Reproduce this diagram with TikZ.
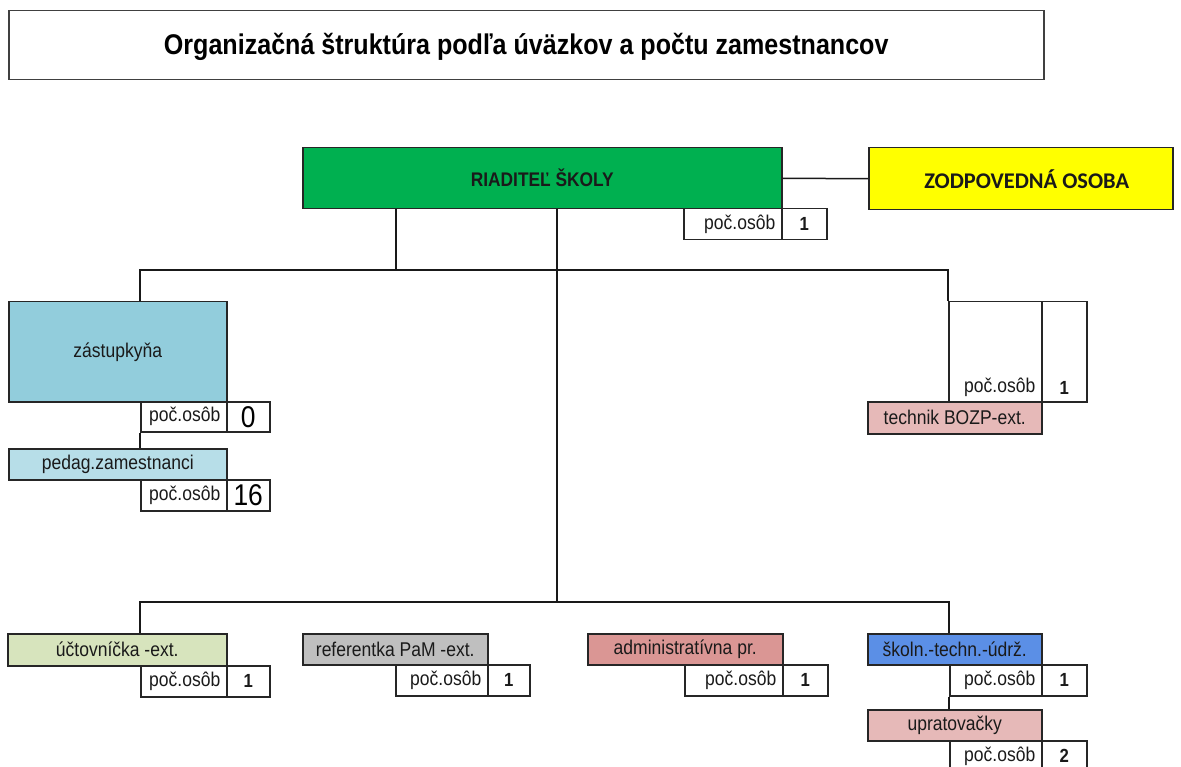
\documentclass[tikz,border=0pt]{standalone}
\usepackage{fontspec}
\setmainfont[FakeStretch=0.88]{Liberation Sans}
\newfontfamily\calib{Carlito}
\definecolor{dirgreen}{HTML}{00B050}
\definecolor{zodyel}{HTML}{FFFF00}
\definecolor{zasblue}{HTML}{92CDDC}
\definecolor{pedblue}{HTML}{B7DEE8}
\definecolor{uctgreen}{HTML}{D7E4BD}
\definecolor{refgray}{HTML}{BFBFBF}
\definecolor{admpink}{HTML}{DA9694}
\definecolor{lpink}{HTML}{E6B9B8}
\definecolor{skblue}{HTML}{5B8FE6}
\definecolor{txt}{HTML}{1A1A1A}
\begin{document}
\begin{tikzpicture}[x=1pt,y=-1pt,
  box/.style={draw=black!85, line width=1.5pt, inner sep=0pt, anchor=north west,
    text=txt, font=\fontsize{19.9}{22}\selectfont},
  pbox/.style={draw=black!85, line width=1.5pt, inner sep=0pt, anchor=north west},
  ptxt/.style={label={[anchor=east, inner sep=0pt, text=txt, font=\fontsize{19.9}{22}\selectfont, xshift=-7pt]east:poč.osôb}},
  ptxtb/.style={label={[anchor=south east, inner sep=0pt, text=txt, font=\fontsize{19.9}{22}\selectfont, xshift=-7pt, yshift=6pt]south east:poč.osôb}},
  nbold/.style={pbox, text=txt, font=\bfseries\fontsize{19}{22}\selectfont},
  nbig/.style={pbox, text=black, font=\fontsize{30}{32}\selectfont},
  conn/.style={draw=black!90, line width=1.5pt}
]
\useasboundingbox (0,0) rectangle (1181,767);
% title
\node[box, draw=black!75, minimum width=1035pt, minimum height=69pt, text=black,
  text depth=2pt, font=\bfseries\fontsize{28.5}{32}\selectfont] (title) at (8,10)
  {Organizačná štruktúra podľa úväzkov a počtu zamestnancov};
% director
\node[box, fill=dirgreen, minimum width=479pt, minimum height=61pt,
  font=\bfseries\fontsize{19.7}{22}\selectfont] (dir) at (302,147) {RIADITEĽ ŠKOLY};
\node[pbox, ptxt, minimum width=98pt, minimum height=31pt] (pdir) at (683,208) {};
\node[nbold, minimum width=45pt, minimum height=31pt] (ndir) at (781,208) {1};
% responsible person
\node[box, fill=zodyel, minimum width=304pt, minimum height=62pt, text=black!90,
  font=\calib\bfseries\fontsize{22.4}{26}\selectfont] (zod) at (868,147) {\hspace{12pt}ZODPOVEDNÁ OSOBA};
% deputy
\node[box, fill=zasblue, minimum width=218pt, minimum height=100pt] (zas) at (8,301) {zástupkyňa};
\node[pbox, ptxt, minimum width=86pt, minimum height=30pt] (pzas) at (140,401) {};
\node[nbig, minimum width=43pt, minimum height=30pt] (nzas) at (226,401) {0};
\node[box, fill=pedblue, minimum width=218pt, minimum height=31pt] (ped) at (8,448) {pedag.zamestnanci};
\node[pbox, ptxt, minimum width=86pt, minimum height=31pt] (pped) at (140,479) {};
\node[nbig, minimum width=43pt, minimum height=31pt] (nped) at (226,479) {16};
% safety technician
\node[pbox, ptxtb, minimum width=93pt, minimum height=100pt] (ptech) at (948,301) {};
\node[pbox, minimum width=45pt, minimum height=100pt] (ntechbox) at (1041,301) {};
\node[inner sep=0pt, font=\bfseries\fontsize{19}{22}\selectfont, text=txt, anchor=south] (ntech) at ([yshift=8pt]ntechbox.south) {1};
\node[box, fill=lpink, minimum width=174pt, minimum height=32pt] (tech) at (867,401) {technik BOZP-ext.};
% bottom row
\node[box, fill=uctgreen, minimum width=219pt, minimum height=32pt] (uct) at (7,633) {účtovníčka -ext.};
\node[pbox, ptxt, minimum width=86pt, minimum height=31pt] (puct) at (140,665) {};
\node[nbold, minimum width=43pt, minimum height=31pt] (nuct) at (226,665) {1};
\node[box, fill=refgray, minimum width=185pt, minimum height=31pt] (ref) at (302,633) {referentka PaM -ext.};
\node[pbox, ptxt, minimum width=92pt, minimum height=31pt] (pref) at (395,664) {};
\node[nbold, minimum width=42pt, minimum height=31pt] (nref) at (487,664) {1};
\node[box, fill=admpink, minimum width=195pt, minimum height=31pt] (adm) at (587,633) {administratívna pr.};
\node[pbox, ptxt, minimum width=98pt, minimum height=31pt] (padm) at (684,664) {};
\node[nbold, minimum width=45pt, minimum height=31pt] (nadm) at (782,664) {1};
\node[box, fill=skblue, minimum width=174pt, minimum height=31pt] (skol) at (867,633) {školn.-techn.-údrž.};
\node[pbox, ptxt, minimum width=92pt, minimum height=31pt] (pskol) at (949,664) {};
\node[nbold, minimum width=45pt, minimum height=31pt] (nskol) at (1041,664) {1};
\node[box, fill=lpink, minimum width=174pt, minimum height=31pt] (upr) at (867,709) {upratovačky};
\node[pbox, ptxt, minimum width=92pt, minimum height=31pt] (pupr) at (949,740) {};
\node[nbold, minimum width=45pt, minimum height=31pt] (nupr) at (1041,740) {2};
% connectors
\coordinate (busA1) at (140,270);
\coordinate (busA2) at (948,270);
\coordinate (drop1) at (396,270);
\coordinate (busB1) at (140,602);
\coordinate (busB2) at (949,602);
\coordinate (trunk) at (557,602);
\draw[conn] (dir.east) -- (zod.west);
\draw[conn] (dir.south -| drop1) -- (drop1);
\draw[conn] (zas.north -| busA1) -- (busA1) -- (busA2) -- (ptech.north west);
\draw[conn] (dir.south -| trunk) -- (trunk);
\draw[conn] (uct.north -| busB1) -- (busB1) -- (busB2) -- (skol.north -| busB2);
\draw[conn] (ref.north -| pref.west) -- (ref.north -| pref.west |- busB1);
\draw[conn] (adm.north -| padm.west) -- (adm.north -| padm.west |- busB1);
\draw[conn] (pzas.south west) -- (ped.north -| pzas.south west);
\draw[conn] (pskol.south west) -- (upr.north -| pskol.south west);
\end{tikzpicture}
\end{document}
